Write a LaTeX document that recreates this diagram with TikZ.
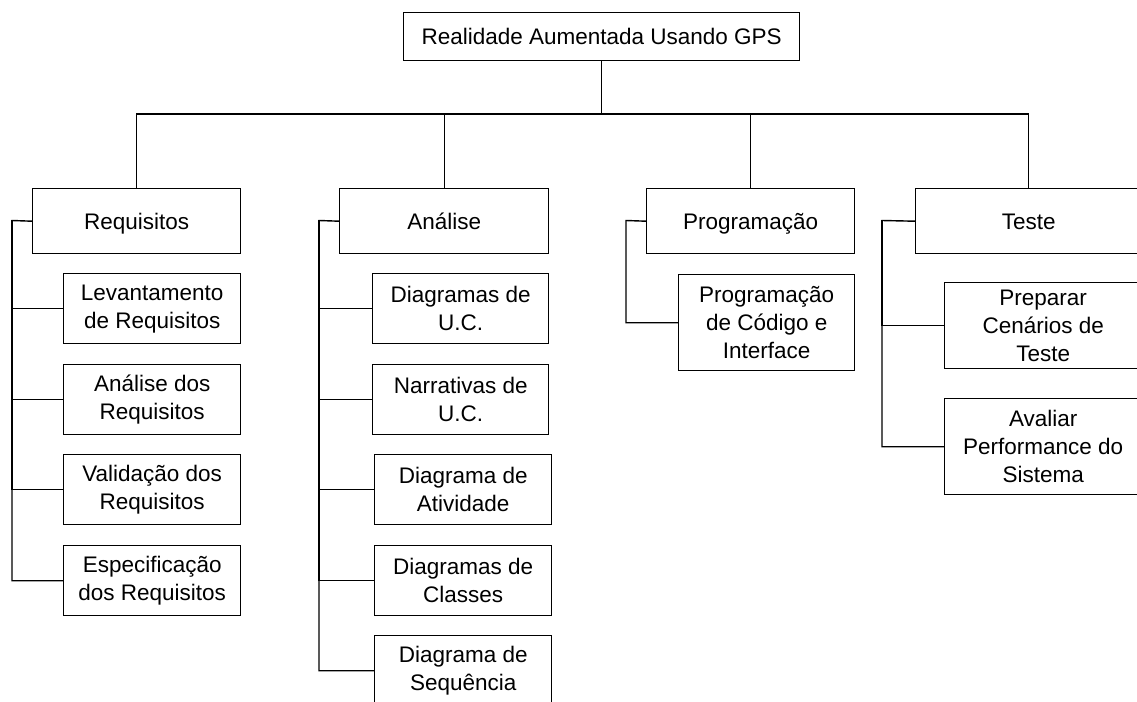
\documentclass[tikz,border=0pt]{standalone}
\usepackage{fontspec}
\setmainfont{Liberation Sans}
\newlength\pxlen
\setlength\pxlen{0.025cm}
\tikzset{
  wbsbox/.style={draw, rectangle, anchor=north west, align=center, inner sep=0pt,
    font=\fontsize{16}{20}\selectfont},
  phasebox/.style={wbsbox, minimum height=65\pxlen, text height=16pt, text depth=3.5pt}
}

\begin{document}
\begin{tikzpicture}[x=\pxlen, y=-\pxlen, line width=1pt, line cap=rect]
    \clip (0,0) rectangle (1137,702); % same frame as the reference

    % top of the tree
    \node[wbsbox, minimum width=396\pxlen, minimum height=48\pxlen] (root) at (403,12) {Realidade Aumentada Usando GPS};
    \coordinate (bus) at (root.south |- {(0,114)});

    % phases
    \node[phasebox, minimum width=208\pxlen] (req) at (32,188) {Requisitos};
    \node[phasebox, minimum width=209\pxlen] (ana) at (339,188) {Análise};
    \node[phasebox, minimum width=208\pxlen] (prog) at (646,188) {Programação};
    \node[phasebox, minimum width=226\pxlen] (teste) at (915,188) {Teste};

    % Requisitos
    \node[wbsbox, minimum width=177\pxlen, minimum height=70\pxlen] (lev) at (63,273) {Levantamento\\de Requisitos};
    \node[wbsbox, minimum width=177\pxlen, minimum height=70\pxlen] (anreq) at (63,364) {Análise dos\\Requisitos};
    \node[wbsbox, minimum width=177\pxlen, minimum height=70\pxlen] (val) at (63,454) {Validação dos\\Requisitos};
    \node[wbsbox, minimum width=177\pxlen, minimum height=70\pxlen] (esp) at (63,545) {Especificação\\dos Requisitos};

    % Analise
    \node[wbsbox, minimum width=176\pxlen, minimum height=70\pxlen] (duc) at (372,273) {Diagramas de\\U.C.};
    \node[wbsbox, minimum width=176\pxlen, minimum height=70\pxlen] (nuc) at (372,364) {Narrativas de\\U.C.};
    \node[wbsbox, minimum width=177\pxlen, minimum height=70\pxlen] (dat) at (374,454) {Diagrama de\\Atividade};
    \node[wbsbox, minimum width=177\pxlen, minimum height=70\pxlen] (dcl) at (374,545) {Diagramas de\\Classes};
    \node[wbsbox, minimum width=177\pxlen, minimum height=70\pxlen] (dsq) at (374,635) {Diagrama de\\Sequência};

    % Programacao
    \node[wbsbox, minimum width=176\pxlen, minimum height=96\pxlen] (pci) at (678,274) {Programação\\de Código e\\Interface};

    % Teste
    \node[wbsbox, minimum width=197\pxlen, minimum height=86\pxlen] (pct) at (944,282) {Preparar\\Cenários de\\Teste};
    \node[wbsbox, minimum width=197\pxlen, minimum height=96\pxlen] (aps) at (944,398) {Avaliar\\Performance do\\Sistema};

    % connectors
    \draw (root.south) -- (bus);
    \foreach \p in {req,ana,prog,teste}
        \draw (\p.north) |- (bus);

    \coordinate (reqrail) at (12,220.5);
    \coordinate (anarail) at (319,220.5);
    \coordinate (prograil) at (626,220.5);
    \coordinate (testerail) at (882,220.5);
    \draw (req.west) -- (reqrail) |- (esp.west);
    \draw (ana.west) -- (anarail) |- (dsq.west);
    \draw (prog.west) -- (prograil) |- (pci.west);
    \draw (teste.west) -- (testerail) |- (aps.west);
    \foreach \c in {lev,anreq,val}
        \draw (reqrail) |- (\c.west);
    \foreach \c in {duc,nuc,dat,dcl}
        \draw (anarail) |- (\c.west);
    \draw (testerail) |- (pct.west);
\end{tikzpicture}
\end{document}
